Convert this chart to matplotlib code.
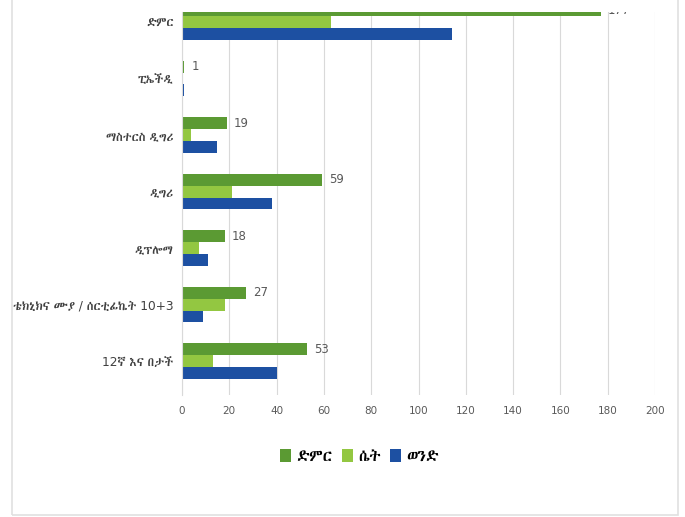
import numpy as np
import matplotlib
matplotlib.use("Agg")
import matplotlib.pyplot as plt
from matplotlib import font_manager
from matplotlib.ft2font import FT2Font
from matplotlib.patches import Rectangle

# categories, bottom to top
categories = ["12ኛ እና በታች", "ቴክኒክና ሙያ / ሰርቲፊኬት 10+3", "ዲፕሎማ", "ዲግሪ",
              "ማስተርስ ዲግሪ", "ፒኤችዲ", "ድምር"]
total = [53, 27, 18, 59, 19, 1, 177]
female = [13, 18, 7, 21, 4, 0, 63]
male = [40, 9, 11, 38, 15, 1, 114]
series_names = ["ድምር", "ሴት", "ወንድ"]
x_ticks = [0, 20, 40, 60, 80, 100, 120, 140, 160, 180, 200]

# look for fonts that can draw Ethiopic, prefer proportional ones
found = []
for path in font_manager.findSystemFonts():
    try:
        if 0x12F5 in FT2Font(path).get_charmap():
            font_manager.fontManager.addfont(path)
            name = font_manager.FontProperties(fname=path).get_name()
            found.append(name)
    except Exception:
        pass
found.sort(key=lambda n: ("Mono" in n, n))
families = ["DejaVu Sans"] + found[:1]
plt.rcParams["font.family"] = families

fig = plt.figure(figsize=(6.85, 5.17), dpi=100)
ax = fig.add_axes([0.2657, 0.236, 0.6905, 0.741])

y = np.arange(len(categories))
h = 0.21
ax.barh(y + h, total, height=h, color="#5B9A33", label=series_names[0])
ax.barh(y, female, height=h, color="#93C741", label=series_names[1])
ax.barh(y - h, male, height=h, color="#1D50A2", label=series_names[2])

for yi, v in zip(y, total):
    ax.text(v + 3, yi + h, str(v), va="center", ha="left", fontsize=8.5,
            color="#595959", clip_on=True)

ax.set_xlim(0, 200)
ax.set_ylim(-0.6, 6.18)
ax.set_xticks(x_ticks)
ax.set_yticks(y)
ax.set_yticklabels(categories)
ax.tick_params(axis="x", colors="#595959", labelsize=7.5, length=0, pad=8)
ax.tick_params(axis="y", colors="#404040", labelsize=8.8, length=0, pad=6)
ax.xaxis.grid(True, color="#D9D9D9", linewidth=0.8)
ax.set_axisbelow(True)
for s in ["top", "right", "bottom"]:
    ax.spines[s].set_visible(False)
ax.spines["left"].set_color("#D9D9D9")

fig.legend(loc="center", bbox_to_anchor=(0.525, 0.117), ncol=3, frameon=False,
           fontsize=11.5, handlelength=0.7, handleheight=0.9, handletextpad=0.3,
           columnspacing=0.6)

# light frame around the chart (top edge lies outside the picture)
fig.patches.append(Rectangle((12 / 685, 2 / 517), 666 / 685, 1.05,
                             transform=fig.transFigure, fill=False,
                             edgecolor="#E0E0E0", linewidth=1.2))

fig.savefig("out.png", dpi=100)
